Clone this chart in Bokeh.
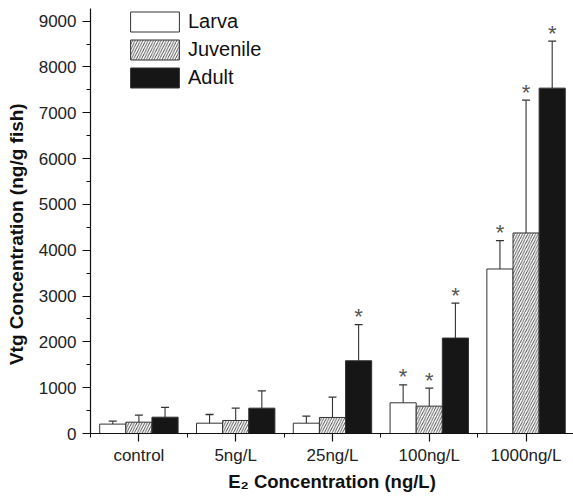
import numpy as np
from bokeh.plotting import figure
from bokeh.models import (Range1d, FixedTicker, SingleIntervalTicker, CustomJSTickFormatter,
                          Legend, LegendItem, Whisker, TeeHead, ColumnDataSource)
from bokeh.embed import file_html
from bokeh.resources import INLINE
from bokeh.core.properties import value

categories = ["control", "5ng/L", "25ng/L", "100ng/L", "1000ng/L"]

larva = [205, 225, 225, 670, 3590]
larva_err = [65, 190, 155, 393, 619]
larva_sig = [False, False, False, True, True]

juvenile = [247, 284, 350, 597, 4376]
juvenile_err = [153, 269, 444, 393, 2899]
juvenile_sig = [False, False, False, True, True]

adult = [356, 553, 1588, 2083, 7537]
adult_err = [212, 377, 786, 764, 1028]
adult_sig = [False, False, True, True, True]

FONT = "Liberation Sans"
EDGE = "#333333"
NB = "\u00a0"

p = figure(width=573, height=496, x_range=Range1d(0, 4.99), y_range=Range1d(0, 9275),
           output_backend="svg", toolbar_location=None,
           min_border_left=90, min_border_right=0, min_border_top=8, min_border_bottom=63)
p.outline_line_color = None
p.xgrid.grid_line_color = None
p.ygrid.grid_line_color = None
p.background_fill_color = "white"

series = [
    ("Larva", larva, larva_err, larva_sig, dict(fill_color="white")),
    ("Juvenile", juvenile, juvenile_err, juvenile_sig,
     dict(fill_color="white", hatch_pattern="/", hatch_color="#222222", hatch_scale=5.2, hatch_weight=0.8)),
    ("Adult", adult, adult_err, adult_sig, dict(fill_color="#161616")),
]
offsets = [-0.27, 0.0, 0.27]
bar_w = 0.27

items = []
for (name, vals, errs, sig, style), off in zip(series, offsets):
    xs = np.arange(len(categories)) + 0.5 + off
    ups = [v + e for v, e in zip(vals, errs)]
    src = ColumnDataSource(dict(x=xs, top=vals, up=ups))
    r = p.vbar(x="x", top="top", bottom=0, width=bar_w, source=src,
               line_color=EDGE, line_width=1, **style)
    items.append(LegendItem(label=name, renderers=[r]))
    w = Whisker(source=src, base="x", lower="top", upper="up", dimension="height",
                line_color=EDGE, line_width=1.1, lower_head=None,
                upper_head=TeeHead(size=8, line_color=EDGE, line_width=1.3), level="overlay")
    p.add_layout(w)
    sx = [x for x, s in zip(xs, sig) if s]
    sy = [u for u, s in zip(ups, sig) if s]
    p.text(x=sx, y=sy, text=["*"] * len(sx), text_align="center", text_baseline="alphabetic",
           y_offset=-8, text_font=value(FONT), text_font_size="22px", text_color="#555555")

legend = Legend(items=items, location=(34, 343), orientation="vertical",
                glyph_width=61, glyph_height=25, label_height=20, spacing=3,
                label_standoff=3, padding=0, margin=0, border_line_color=None,
                background_fill_alpha=0, label_text_font=FONT, label_text_font_size="20px",
                label_text_color="#111111")
p.add_layout(legend, "center")

# axes
xa = p.xaxis[0]
xa.ticker = FixedTicker(ticks=list(np.arange(len(categories)) + 0.5),
                        minor_ticks=list(range(len(categories) + 1)))
xa.formatter = CustomJSTickFormatter(args=dict(cats=categories),
                                     code="return cats[Math.floor(tick)] || '';")
ya = p.yaxis[0]
ya.ticker = SingleIntervalTicker(interval=1000, num_minor_ticks=2)

for ax in (xa, ya):
    ax.axis_line_color = "#111111"
    ax.axis_line_width = 1.2
    ax.major_tick_line_color = "#111111"
    ax.minor_tick_line_color = "#111111"
    ax.major_tick_line_width = 1.2
    ax.minor_tick_line_width = 1
    ax.major_tick_out = 8
    ax.major_tick_in = 0
    ax.minor_tick_out = 4
    ax.minor_tick_in = 0
    ax.major_label_text_font = FONT
    ax.major_label_text_font_size = "17px"
    ax.major_label_text_color = "#222222"
    ax.major_label_standoff = 6
    ax.axis_label_text_font = FONT
    ax.axis_label_text_font_style = "bold"
    ax.axis_label_text_color = "#111111"

xa.major_label_standoff = 4
xa.axis_label = "E\u2082 Concentration (ng/L)"
xa.axis_label_text_font_size = "18.5px"
xa.axis_label_standoff = 3

ya.axis_label = "Vtg Concentration (ng/g fish)" + NB * 5
ya.axis_label_text_font_size = "19px"
ya.axis_label_standoff = 9

open("out.html", "w").write(file_html(p, INLINE))
